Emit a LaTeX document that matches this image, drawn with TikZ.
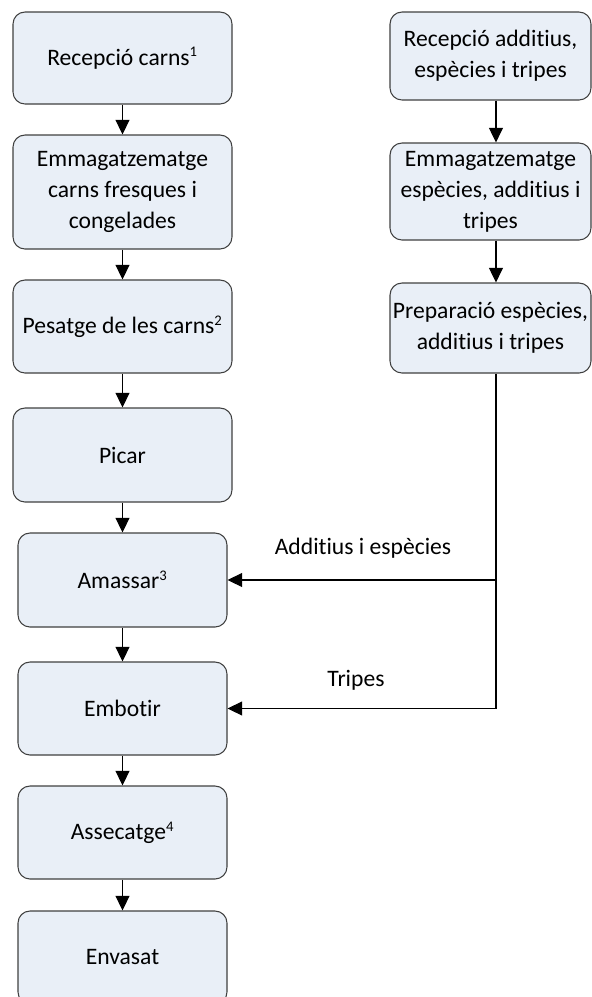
\documentclass[tikz,border=0pt]{standalone}
\usepackage{fontspec}
\setmainfont[Ligatures=NoCommon]{Carlito}
\usetikzlibrary{arrows.meta}
\definecolor{boxfill}{HTML}{E9EFF7}
\definecolor{boxline}{HTML}{404040}
\tikzset{
  procbox/.style={draw=boxline, fill=boxfill, line width=0.8pt, rounded corners=9pt,
    inner sep=0pt, align=center, font=\fontsize{17.7}{23.25}\selectfont},
  wideL/.style={procbox, minimum width=164.25pt},
  narrowL/.style={procbox, minimum width=156.75pt},
  rbox/.style={procbox, minimum width=150.75pt},
  arr/.style={draw=black, line width=0.8pt, -{Triangle[length=11pt,width=10.5pt]}},
  lbl/.style={font=\fontsize{17.7}{23.25}\selectfont, inner sep=0pt},
}
\newcommand{\sps}[1]{\textsuperscript{\fontsize{11}{11}\selectfont #1}}
\begin{document}
\begin{tikzpicture}[x=0.75pt,y=-0.75pt]
\useasboundingbox (0,0) rectangle (592,997);
\clip (0,0) rectangle (592,997);
% left column
\node[wideL, minimum height=69pt] (L1) at (122.5,58) {Recepció carns\sps{1}};
\node[wideL, minimum height=85.5pt] (L2) at (122.5,192) {Emmagatzematge\\carns fresques i\\congelades};
\node[wideL, minimum height=69.75pt] (L3) at (122.5,326.5) {Pesatge de les carns\sps{2}};
\node[wideL, minimum height=70.5pt] (L4) at (122.5,455) {Picar};
\node[narrowL, minimum height=70.5pt] (L5) at (122.5,580) {Amassar\sps{3}};
\node[narrowL, minimum height=69.75pt] (L6) at (122.5,708.5) {Embotir};
\node[narrowL, minimum height=69.75pt] (L7) at (122.5,832.5) {Assecatge\sps{4}};
\node[narrowL, minimum height=69.75pt] (L8) at (122.5,957.5) {Envasat};
% right column
\node[rbox, minimum height=66pt] (R1) at (490.5,56) {Recepció additius,\\espècies i tripes};
\node[rbox, minimum height=72.75pt] (R2) at (490.5,191.5) {Emmagatzematge\\espècies, additius i\\tripes};
\node[rbox, minimum height=67.5pt] (R3) at (490.5,328) {Preparació espècies,\\additius i tripes};
% left connectors
\draw[arr] (L1) -- (L2);
\draw[arr] (L2) -- (L3);
\draw[arr] (L3) -- (L4);
\draw[arr] (L4) -- (L5);
\draw[arr] (L5) -- (L6);
\draw[arr] (L6) -- (L7);
\draw[arr] (L7) -- (L8);
% right connectors
\draw[arr] ([xshift=4.1pt]R1.south) -- ([xshift=4.1pt]R2.north);
\draw[arr] ([xshift=4.1pt]R2.south) -- ([xshift=4.1pt]R3.north);
\coordinate (jtop) at ([xshift=4.1pt]R3.south);
\draw[arr] (jtop) |- (L6.east);
\draw[arr] (jtop |- L5.east) -- (L5.east);
% labels
\node[lbl] (la) at (363,548) {Additius i espècies};
\node[lbl] (lt) at (356,680) {Tripes};
\end{tikzpicture}
\end{document}
